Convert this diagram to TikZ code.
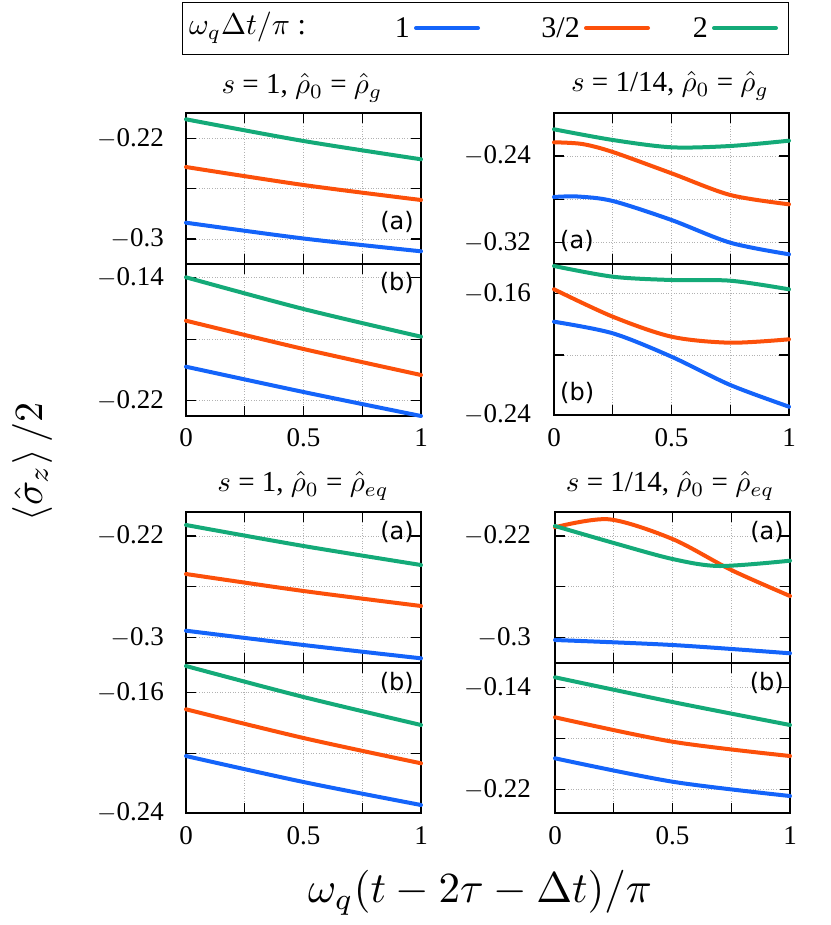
\documentclass[tikz,border=0pt]{standalone}
\usepackage{graphicx}
\usepackage{fontspec}
\setmainfont{Liberation Serif}
\newfontfamily\sansf{DejaVu Sans}
\definecolor{cb}{RGB}{20,100,250}
\definecolor{co}{RGB}{252,80,10}
\definecolor{cg}{RGB}{20,170,120}
\newcommand{\sbx}[2]{\scalebox{#1}{#2}}
\tikzset{
 curve/.style={line width=4pt,line cap=round,smooth},
 fr/.style={line width=1.1pt},
 grd/.style={gray!60,dotted,line width=0.6pt},
 tl/.style={font=\fontsize{27}{27}\selectfont,inner sep=0pt},
 pl/.style={font=\sansf\fontsize{24}{24}\selectfont,inner sep=0pt},
 sm/.style={font=\fontsize{10}{12}\selectfont,inner sep=0pt},
}
\newcommand{\myframe}[4]{% x0 x1 y0 y1
 \foreach \t in {0.25,0.5,0.75}{
  \draw[grd] ({#1+\t*(#2-#1)},#3) -- ({#1+\t*(#2-#1)},#4);
  \draw[fr] ({#1+\t*(#2-#1)},#3) -- ++(0,10);
  \draw[fr] ({#1+\t*(#2-#1)},#4) -- ++(0,-10);}
 \draw[fr] (#1,#3) rectangle (#2,#4);}
\newcommand{\myyt}[3]{% x0 x1 y
 \draw[grd] (#1,#3) -- (#2,#3);
 \draw[fr] (#1,#3) -- ++(10,0);
 \draw[fr] (#2,#3) -- ++(-10,0);}
\begin{document}
\begin{tikzpicture}[x=1pt,y=-1pt]
\useasboundingbox (0,0) rectangle (830,925);
% legend
\node[draw,line width=0.8pt,minimum width=606pt,minimum height=52pt,anchor=north west,inner sep=0pt] (leg) at (182,2) {};
\node[sm,anchor=west] (legt) at (189,28) {\sbx{3}{$\omega_q\Delta t/\pi$ :}};
\node[tl,font=\fontsize{30}{30}\selectfont,anchor=east] (l1) at (410,28) {1};
\node[tl,font=\fontsize{30}{30}\selectfont,anchor=east] (l2) at (580,28) {3/2};
\node[tl,font=\fontsize{30}{30}\selectfont,anchor=east] (l3) at (708,28) {2};
\draw[curve,cb] (l1.east)++(6,0) -- ++(62,0);
\draw[curve,co] (l2.east)++(6,0) -- ++(62,0);
\draw[curve,cg] (l3.east)++(6,0) -- ++(62,0);
% titles
\node[sm] (t1) at (302,88) {\sbx{2.9}{$s$ = 1, $\hat\rho_0$ = $\hat\rho_g$}};
\node[sm] (t2) at (670,86) {\sbx{2.9}{$s$ = 1/14, $\hat\rho_0$ = $\hat\rho_g$}};
\node[sm] (t3) at (303,486) {\sbx{2.9}{$s$ = 1, $\hat\rho_0$ = $\hat\rho_{eq}$}};
\node[sm] (t4) at (670,486) {\sbx{2.9}{$s$ = 1/14, $\hat\rho_0$ = $\hat\rho_{eq}$}};
% frames
\myframe{186}{421}{113}{264}\myframe{186}{421}{264}{416}
\myframe{554}{789}{113}{264}\myframe{554}{789}{264}{415}
\myframe{186}{421}{512}{663}\myframe{186}{421}{663}{813}
\myframe{555}{790}{512}{663}\myframe{555}{790}{663}{813}
% y ticks
\foreach \y in {138.3,188.3,239}{\myyt{186}{421}{\y}}
\foreach \y in {277.3,339.3,400.7}{\myyt{186}{421}{\y}}
\foreach \y in {156,199.3,242.7}{\myyt{554}{789}{\y}}
\foreach \y in {293.3,355}{\myyt{554}{789}{\y}}
\foreach \y in {536,586.7,637.3}{\myyt{186}{421}{\y}\myyt{555}{790}{\y}}
\foreach \y in {692.7,753.3}{\myyt{186}{421}{\y}}
\foreach \y in {687.3,738.3,789.3}{\myyt{555}{790}{\y}}
% y tick labels
\node[tl,anchor=east] (a1) at (164,138.3) {$-$0.22};
\node[tl,anchor=east] (a2) at (164,239) {$-$0.3};
\node[tl,anchor=east] (a3) at (164,277.3) {$-$0.14};
\node[tl,anchor=east] (a4) at (164,400.7) {$-$0.22};
\node[tl,anchor=east] (b1) at (531,156) {$-$0.24};
\node[tl,anchor=east] (b2) at (531,242.7) {$-$0.32};
\node[tl,anchor=east] (b3) at (531,293.3) {$-$0.16};
\node[tl,anchor=east] (b4) at (531,415) {$-$0.24};
\node[tl,anchor=east] (c1) at (164,536) {$-$0.22};
\node[tl,anchor=east] (c2) at (164,637.3) {$-$0.3};
\node[tl,anchor=east] (c3) at (164,692.7) {$-$0.16};
\node[tl,anchor=east] (c4) at (164,813) {$-$0.24};
\node[tl,anchor=east] (d1) at (531,536) {$-$0.22};
\node[tl,anchor=east] (d2) at (531,637.3) {$-$0.3};
\node[tl,anchor=east] (d3) at (531,687.3) {$-$0.14};
\node[tl,anchor=east] (d4) at (531,789.3) {$-$0.22};
% x tick labels
\foreach \x/\n in {186/0,303.5/0.5,421/1}{\node[tl] at (\x,438) {\n}; \node[tl] at (\x,836) {\n};}
\foreach \x/\n in {554/0,671.5/0.5,789/1}{\node[tl] at (\x,438) {\n};}
\foreach \x/\n in {555/0,672.5/0.5,790/1}{\node[tl] at (\x,836) {\n};}
% panel labels
\node[pl,anchor=east] (p1) at (414,222) {(a)};
\node[pl,anchor=east] (p2) at (414,283) {(b)};
\node[pl,anchor=west] (p3) at (560,241) {(a)};
\node[pl,anchor=west] (p4) at (560,393) {(b)};
\node[pl,anchor=east] (p5) at (414,532) {(a)};
\node[pl,anchor=east] (p6) at (414,683) {(b)};
\node[pl,anchor=east] (p7) at (784,532) {(a)};
\node[pl,anchor=east] (p8) at (784,683) {(b)};
% curves
\begin{scope}[shift={(186,0)},xscale=235]
\draw[curve,cg] plot coordinates {(0,119.3)(0.5,141)(1,159.3)};
\draw[curve,co] plot coordinates {(0,167)(0.5,185)(1,200)};
\draw[curve,cb] plot coordinates {(0,222.7)(0.5,238.5)(1,251.3)};
\draw[curve,cg] plot coordinates {(0,277.3)(0.5,309)(1,336.7)};
\draw[curve,co] plot coordinates {(0,320.7)(0.5,349)(1,375)};
\draw[curve,cb] plot coordinates {(0,366.7)(0.5,392)(1,416)};
\end{scope}
\begin{scope}[shift={(554,0)},xscale=235]
\draw[curve,cg] plot coordinates {(0,129.3)(0.25,140)(0.5,147.3)(0.75,146)(1,140.7)};
\draw[curve,co] plot coordinates {(0,142.3)(0.12,144)(0.25,152)(0.5,173.3)(0.75,195)(1,204.3)};
\draw[curve,cb] plot coordinates {(0,197)(0.1,196.5)(0.25,201)(0.5,220)(0.75,242.7)(1,254.3)};
\draw[curve,cg] plot coordinates {(0,266)(0.25,276.7)(0.5,280)(0.75,280.7)(1,289.3)};
\draw[curve,co] plot coordinates {(0,289.3)(0.25,316.7)(0.5,336.7)(0.75,342.7)(1,339.3)};
\draw[curve,cb] plot coordinates {(0,321.7)(0.25,333.3)(0.5,356.7)(0.75,385)(1,406.7)};
\end{scope}
\begin{scope}[shift={(186,0)},xscale=235]
\draw[curve,cg] plot coordinates {(0,525)(0.5,546)(1,565)};
\draw[curve,co] plot coordinates {(0,574)(0.5,591)(1,606)};
\draw[curve,cb] plot coordinates {(0,630.7)(0.5,645)(1,658.3)};
\draw[curve,cg] plot coordinates {(0,666)(0.5,697)(1,725)};
\draw[curve,co] plot coordinates {(0,709.3)(0.5,738)(1,763.3)};
\draw[curve,cb] plot coordinates {(0,756)(0.5,782)(1,805)};
\end{scope}
\begin{scope}[shift={(555,0)},xscale=235]
\draw[curve,co] plot coordinates {(0,527.3)(0.23,519.3)(0.5,539)(0.75,570)(1,596)};
\draw[curve,cg] plot coordinates {(0,526)(0.25,543)(0.5,559)(0.7,566)(1,560.7)};
\draw[curve,cb] plot coordinates {(0,640)(0.5,645)(1,653.3)};
\draw[curve,cg] plot coordinates {(0,677.3)(0.5,702)(1,725)};
\draw[curve,co] plot coordinates {(0,717.3)(0.5,741.7)(1,756)};
\draw[curve,cb] plot coordinates {(0,758.3)(0.5,781.7)(1,796)};
\end{scope}
% axis labels
\node[sm,rotate=90] (yl) at (32,462) {\sbx{4}{$\langle\hat\sigma_z\rangle\,/2$}};
\node[sm] (xl) at (480,893) {\sbx{4.3}{$\omega_q(t-2\tau-\Delta t)/\pi$}};
\end{tikzpicture}
\end{document}
